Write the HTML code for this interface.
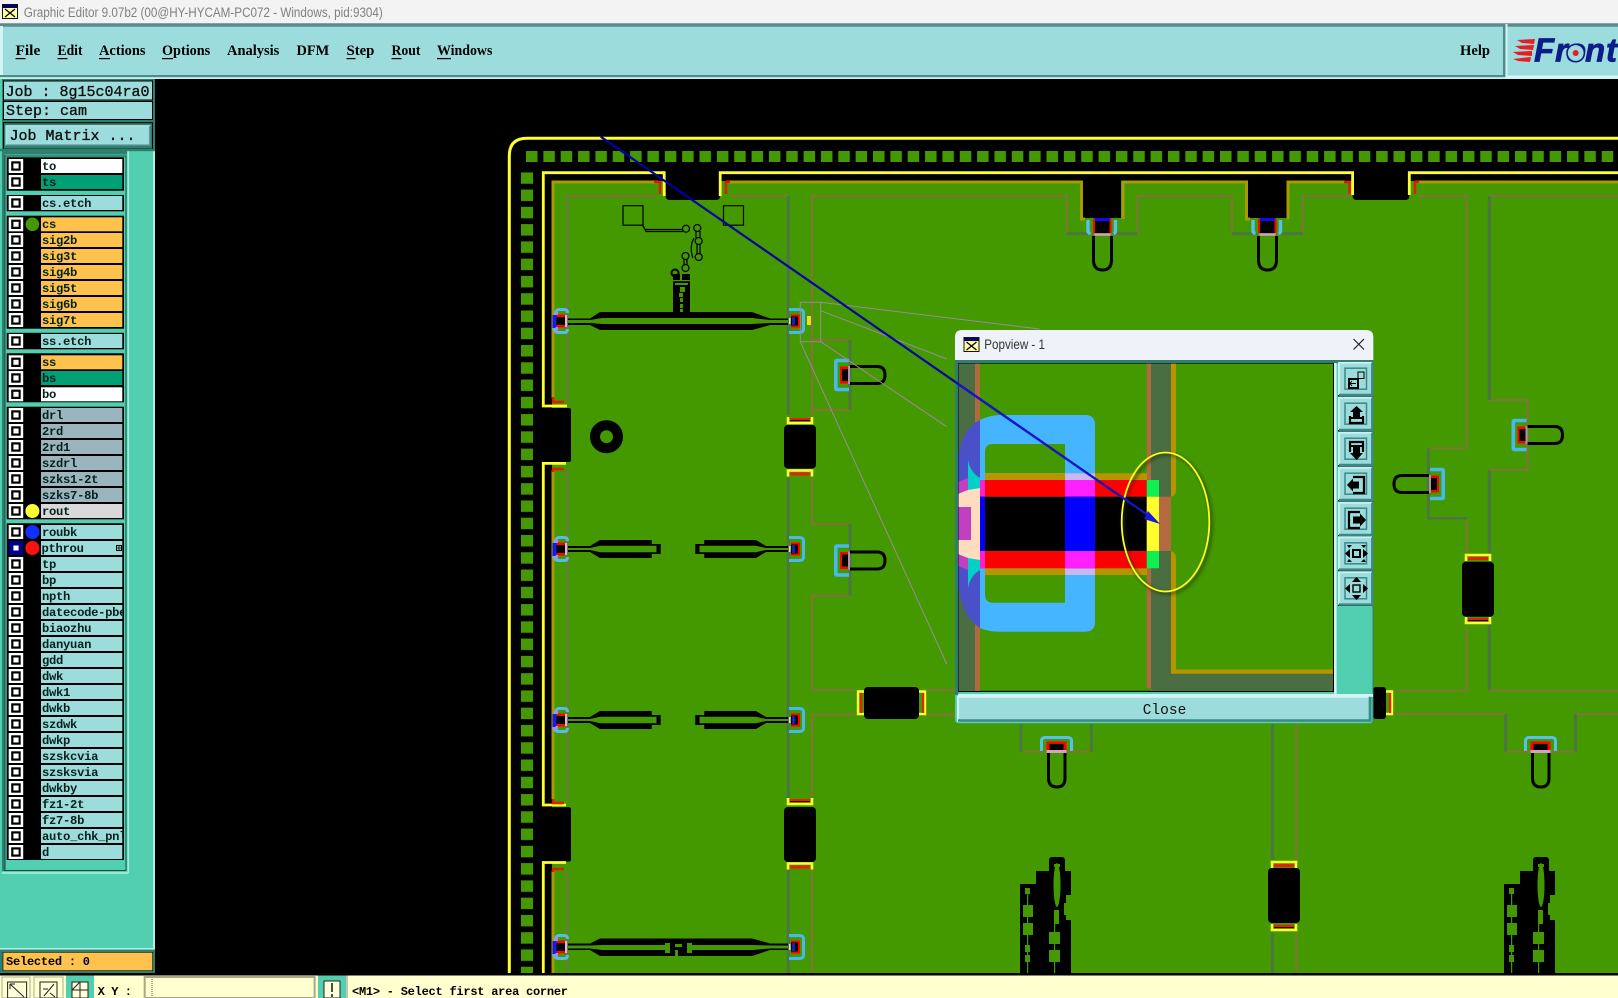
<!DOCTYPE html>
<html><head><meta charset="utf-8"><title>Graphic Editor</title>
<style>html,body{margin:0;padding:0;background:#000;overflow:hidden}svg{display:block}
.m{font:bold 15px "Liberation Serif",serif;fill:#000}
.j{font:15px "Liberation Mono",monospace;fill:#111;stroke:#111;stroke-width:.35}
.l{font:bold 12.2px "Liberation Mono",monospace;fill:#06201c;letter-spacing:-.3px}
.s{font:bold 12px "Liberation Mono",monospace;fill:#000}
.u{font:13.5px "Liberation Sans",sans-serif}
</style></head><body>
<svg xmlns="http://www.w3.org/2000/svg" width="1618" height="998" viewBox="0 0 1618 998">
<defs>
<pattern id="pt" x="526" y="151" width="17.35" height="40" patternUnits="userSpaceOnUse"><rect width="11.5" height="11" fill="#449800"/></pattern>
<pattern id="pl" x="521" y="172.3" width="20" height="17.27" patternUnits="userSpaceOnUse"><rect width="12" height="11.5" fill="#449800"/></pattern>
<clipPath id="lc"><rect x="41" y="150" width="81.3" height="720"/></clipPath>
<clipPath id="vc"><rect x="958.5" y="363.5" width="374.5" height="327.5"/></clipPath>
<g id="cb"><rect x="0" y="-7" width="14.5" height="14" fill="#fff"/><rect x="2.5" y="-4.7" width="9.5" height="9.4" fill="#000"/><rect x="4.7" y="-2.5" width="5.2" height="5" fill="#fff"/></g>
<g id="ic"><rect width="16" height="15" fill="#111"/><rect x="1" y="1" width="14" height="2.5" fill="#00008b"/><rect x="1" y="4" width="14" height="10" fill="#ffffa0"/><path d="M3 5l10 8M13 5L3 13" stroke="#000" stroke-width="1.3"/></g>
<g id="tl"><polygon points="568,-3 590,-3 600,-9 651.7,-9 651.7,-5 660.7,-5 660.7,5 651.7,5 651.7,9 600,9 590,3 568,3" fill="#000"/><polygon points="568,-1 590,-1 600,-3.2 656.5,-3.2 656.5,3.2 600,3.2 590,1 568,1" fill="#449800"/></g>
<g id="pl1"><path d="M1.5 9V5Q1.5 -11.5 6 -11.5H12Q15 -11.5 15 -8M1.5 -5V5Q1.5 11.5 6 11.5H12Q15 11.5 15 8" fill="none" stroke="#58b8f0" stroke-width="3"/><rect x="0" y="-6" width="4.5" height="13" fill="#1818f0"/><rect x="4" y="-5" width="9" height="10" fill="#000"/><rect x="4" y="-6.5" width="9" height="2.5" fill="#f00"/><rect x="4" y="4" width="9" height="2.5" fill="#f00"/><rect x="12.5" y="-6" width="2" height="12" fill="#e8b0e0"/><rect x="3" y="-10" width="2.5" height="4" fill="#c080e0"/><rect x="3" y="6" width="2.5" height="4" fill="#c080e0"/></g>
<g id="pr"><path d="M0 -11.5H10Q14.5 -11.5 14.5 -8V8Q14.5 11.5 10 11.5H0" fill="none" stroke="#48b8f0" stroke-width="3"/><rect x="2" y="-6.5" width="9" height="13" fill="#f00"/><rect x="2" y="-4.5" width="7" height="9" fill="#000"/><rect x="3" y="-4" width="3" height="8" fill="#1020c0"/><rect x="0" y="-3" width="1.5" height="6" fill="#f0d0f0"/></g>
<g id="ps"><path d="M15 -14.5H3Q1.8 -14.5 1.8 -13V13Q1.8 14.5 3 14.5H15" fill="none" stroke="#48b8f0" stroke-width="3.6"/><rect x="6" y="-8.5" width="8" height="17" fill="#f00"/><rect x="8" y="-6" width="6" height="12" fill="#000"/><rect x="14" y="-9" width="2" height="18" fill="#b090b0"/><path d="M16 -8.5H43Q51 -8.5 51 0Q51 8.5 43 8.5H16" fill="none" stroke="#000" stroke-width="3"/></g>
<g id="pt1"><rect x="-8" y="-2" width="16" height="4" fill="#0a0aff"/><rect x="-8" y="1" width="16" height="12" fill="#000"/><path d="M-14.5 0V11Q-14.5 13 -12 13.5M13 0V11Q13 13 11 13.5" fill="none" stroke="#58c0f0" stroke-width="3.4"/><rect x="-9.5" y="-1" width="2" height="14" fill="#f00"/><rect x="7" y="-1" width="2" height="14" fill="#f00"/><rect x="-8" y="13.5" width="16" height="2.2" fill="#d8a0c8"/><path d="M-9 16V40Q-9 50 0 50Q9 50 9 40V16" fill="none" stroke="#000" stroke-width="3"/></g>
<g id="pb"><path d="M-15 13V3Q-15 -0.5 -11 -0.5H11Q15 -0.5 15 3V13" fill="none" stroke="#58c0f0" stroke-width="3"/><rect x="-10" y="3.5" width="20" height="10" fill="#f00"/><rect x="-7" y="6" width="14" height="7" fill="#000"/><rect x="-10" y="12" width="20" height="3" fill="#d8a0c8"/><path d="M-8 15V40Q-8 49 0.5 49Q8.5 49 8.5 40V15" fill="none" stroke="#000" stroke-width="3"/></g>
<g id="yu"><path d="M-12 0V6H12V0" fill="none" stroke="#ffff30" stroke-width="2.6"/><rect x="-10" y="1" width="20" height="3" fill="#e82000"/><rect x="-10" y="3.2" width="20" height="1" fill="#000"/></g>
<g id="yd"><path d="M-12 7V1H12V7" fill="none" stroke="#ffff30" stroke-width="2.6"/><rect x="-10" y="3" width="20" height="3" fill="#e82000"/></g>
<g id="bk"><rect x="-16" y="0" width="32" height="55" rx="4" fill="#000"/></g>
<g id="cp"><rect x="0" y="27" width="51" height="90" fill="#000"/><rect x="16" y="14" width="35" height="102" fill="#000"/><rect x="29" y="0" width="16" height="30" rx="3" fill="#000"/>
<ellipse cx="37" cy="28" rx="3.5" ry="22" fill="#449800"/><rect x="34" y="7" width="6" height="3" fill="#449800"/><rect x="3" y="48" width="10" height="12" fill="#449800"/><rect x="3" y="66" width="10" height="12" fill="#449800"/><rect x="5" y="31" width="5" height="6" fill="#449800"/><rect x="5" y="88" width="5" height="7" fill="#449800"/><rect x="5" y="98" width="5" height="7" fill="#449800"/><rect x="7" y="37" width="1.2" height="79" fill="#449800"/><rect x="29" y="75" width="11" height="12" fill="#449800"/><rect x="29" y="93" width="11" height="12" fill="#449800"/><rect x="34" y="53" width="5" height="14" fill="#449800"/><rect x="34" y="66" width="1.2" height="50" fill="#449800"/><path d="M51 38H46V46H44V58H46V63H51Z" fill="#449800"/></g>
<g id="bt"><rect x="-1" y="-1.3" width="34.6" height="35" fill="#0a2a2a"/><rect width="33.3" height="32.3" fill="#9ddcdc"/><path d="M0 32.3V0H33.3" fill="none" stroke="#c6f2f0" stroke-width="2"/><path d="M33.3 0V32.3H0" fill="none" stroke="#3c8888" stroke-width="2.4"/><rect x="6" y="5.5" width="21.5" height="21" fill="none" stroke="#3c8888" stroke-width="1.5"/></g>
<filter id="sh" x="-20%" y="-20%" width="140%" height="140%"><feGaussianBlur stdDeviation="1.5"/></filter>
</defs>

<!-- title -->
<rect width="1618" height="24" fill="#f3f3f3"/>
<use href="#ic" x="2" y="4"/>
<text x="23.8" y="17" class="u" fill="#808080" textLength="359" lengthAdjust="spacingAndGlyphs">Graphic Editor 9.07b2 (00@HY-HYCAM-PC072 - Windows, pid:9304)</text>
<!-- menu -->
<rect y="23.3" width="1618" height="55.7" fill="#9ddcdc"/>
<rect y="23.3" width="1618" height="3.4" fill="#5a8a8c"/>
<rect x="0" y="26" width="3" height="51" fill="#d4f4f4"/>
<rect y="75" width="1503" height="2.2" fill="#4f8a8c"/>
<rect y="77.2" width="1508" height="1.8" fill="#c6ecec"/>
<rect x="1503" y="26" width="2.4" height="51" fill="#4f8a8c"/><rect x="1505.5" y="24" width="2" height="55" fill="#d4f4f4"/>
<rect x="1507.5" y="75.5" width="111" height="3.5" fill="#d4f4f4"/>
<g class="m">
<text class="m" x="15.5" y="55" textLength="24.8" lengthAdjust="spacingAndGlyphs">File</text>
<text class="m" x="57.5" y="55" textLength="25" lengthAdjust="spacingAndGlyphs">Edit</text>
<text class="m" x="99" y="55" textLength="46.5" lengthAdjust="spacingAndGlyphs">Actions</text>
<text class="m" x="162" y="55" textLength="48.2" lengthAdjust="spacingAndGlyphs">Options</text>
<text class="m" x="227" y="55" textLength="52.3" lengthAdjust="spacingAndGlyphs">Analysis</text>
<text class="m" x="296.5" y="55" textLength="32.7" lengthAdjust="spacingAndGlyphs">DFM</text>
<text class="m" x="346.5" y="55" textLength="27.9" lengthAdjust="spacingAndGlyphs">Step</text>
<text class="m" x="391.5" y="55" textLength="29" lengthAdjust="spacingAndGlyphs">Rout</text>
<text class="m" x="437" y="55" textLength="55.4" lengthAdjust="spacingAndGlyphs">Windows</text>
<text class="m" x="1460" y="55" textLength="30" lengthAdjust="spacingAndGlyphs">Help</text>
</g>
<g fill="#000"><rect x="15.5" y="58" width="10" height="1.2"/><rect x="57.5" y="58" width="10" height="1.2"/><rect x="99" y="58" width="11" height="1.2"/><rect x="162" y="58" width="11" height="1.2"/><rect x="346.5" y="58" width="9" height="1.2"/><rect x="391.5" y="58" width="10" height="1.2"/><rect x="437" y="58" width="14" height="1.2"/></g>
<!-- logo -->
<g fill="#e81c24"><polygon points="1517,40 1535,39 1534,44 1522,43"/><polygon points="1515,46 1534,45 1533,50 1520,49"/><polygon points="1513,52 1532,51 1532,56 1518,55"/><polygon points="1513,59 1531,57 1530,62 1518,61"/></g>
<text x="1534 1555 1566 1585 1606" y="61.5" font-family="Liberation Sans,sans-serif" font-weight="bold" font-style="italic" font-size="33" fill="#0c1c88" stroke="#0c1c88" stroke-width=".7">Front</text>
<circle cx="1575.7" cy="53" r="8.7" fill="#9ddcdc" stroke="#0c1c88" stroke-width="1.6"/>
<circle cx="1575.7" cy="53" r="3" fill="#e81c24"/>

<!-- canvas -->
<rect x="155" y="79" width="1463" height="896" fill="#000"/>
<path d="M509.3 973V156Q509.3 138.3 527 138.3H1618" fill="none" stroke="#ffff30" stroke-width="3"/>
<rect x="526" y="151" width="1092" height="11" fill="url(#pt)"/>
<rect x="521" y="172.3" width="12" height="801" fill="url(#pl)"/>
<!-- board -->
<rect x="552" y="181" width="1066" height="792" fill="#449800"/>
<g fill="#000">
<rect x="552" y="408" width="19" height="54" rx="2"/><rect x="552" y="807.3" width="19" height="54.2" rx="2"/>
<rect x="545" y="408" width="10" height="54"/><rect x="545" y="807.3" width="10" height="54.2"/>
<path d="M665.7 172H720V196Q720 200 716 200H670Q665.7 200 665.7 196Z"/>
<path d="M1352.6 172H1409.3V196Q1409.3 200 1405 200H1357Q1352.6 200 1352.6 196Z"/>
<rect x="1083" y="172" width="38" height="46"/><rect x="1248" y="172" width="38.6" height="46"/>
</g>
<g fill="none" stroke="#ffff30" stroke-width="2.8">
<path d="M567 406H543.3V172.7H664.2V196"/>
<path d="M720.2 196V172.7H1352.6V195"/>
<path d="M1409.3 195V172.7H1618"/>
<path d="M566 463.4H543.3V805H566"/>
<path d="M566 862.5H543.3V973"/>
</g>
<g fill="none" stroke="#a89a00" stroke-width="3">
<path d="M553 398V182H658"/><path d="M553 470V799"/><path d="M553 871V973"/>
<path d="M726 182H1081.5V219H1085M1123 219V182H1246.5V219H1250M1288 219V182H1345"/>
<path d="M1416 182H1618"/>
</g>
<g fill="none" stroke="#e81800" stroke-width="2.4">
<path d="M553 397V402H564"/><path d="M553 472V469H564"/><path d="M553 799V803H564"/><path d="M553 872V869H564"/>
<path d="M654 182H660V194"/><path d="M730 182H726V194"/><path d="M1344 182H1349.5V194"/><path d="M1419 182H1415V194"/>
</g>
<!-- brown traces -->
<g fill="none" stroke="#7d7638" stroke-width="2.2">
<path d="M567 196H657"/>
<path d="M730 196H788"/>
<path d="M812 417V196H1067V233.5H1137.5V196H1232V233.5H1302.8V196H1352"/>
<path d="M1418 196H1466.7V448.3"/>
<path d="M1489.3 196H1618"/>
<path d="M812 340H850"/>
<path d="M850 410H812"/>
<path d="M812 478V524H850"/>
<path d="M850 595.6H812V690H854"/>
<path d="M854 714.6H812V798"/>
<path d="M812 870V973"/>
<path d="M926 690H956M926 714.6H956"/>
<path d="M1395 690.7H1466.7V628"/>
<path d="M1395 714H1505V725"/>
<path d="M1489.3 400H1527.3V470H1489.3"/>
<path d="M1489.3 690.7H1618"/>
<path d="M1428.3 448.3H1466.7M1466.7 518.3V554"/>
<path d="M1296.4 724V860M1296.4 933V973"/>
<path d="M1021 751.7H1091.5"/>
<path d="M1505.6 751.7H1575.5"/>
<path d="M1575.5 725V714H1618"/>
</g>
<g fill="none" stroke="#4c7644" stroke-width="3">
<path d="M788.3 196V415"/><path d="M788.3 478V798"/><path d="M788.3 870V973"/>
<path d="M850 340V410"/><path d="M850 524V595.6"/>
<path d="M567 196V403M567 470V799M567 871V973" stroke-width="2.4" stroke="#6b7a40"/>
<path d="M1489.3 196V400M1489.3 470V554M1489.3 624V690"/>
<path d="M1428.3 448.3V518.3H1466.7" stroke-width="2.6"/>
<path d="M1272.5 724V860M1272.5 933V973"/>
<path d="M1021 724V751.7M1091.5 724V751.7M1505.6 714V751.7M1575.5 714V751.7"/>
<path d="M1067 233.5H1090M1113 233.5H1137.5M1232 233.5H1257M1279 233.5H1302.8"/>
<path d="M1527.3 400V470" stroke="#7d7638" stroke-width="2"/>
</g>
<!-- blocks -->
<rect x="784" y="425" width="32" height="43.6" rx="4" fill="#000"/><use href="#bk" x="800" y="807"/>
<use href="#yu" x="800" y="417"/><use href="#yd" x="800" y="469.5"/><use href="#yu" x="800" y="798"/><use href="#yd" x="800" y="862.5"/>
<use href="#bk" x="1478" y="561.7"/><use href="#yd" x="1478" y="554"/><use href="#yu" x="1478" y="617"/>
<use href="#bk" x="1284" y="868"/><use href="#yd" x="1284" y="861"/><use href="#yu" x="1284" y="924"/>
<rect x="864" y="687" width="55" height="32" rx="4" fill="#000"/>
<rect x="1373" y="687" width="13" height="32" rx="3" fill="#000"/>
<g fill="none" stroke="#ffff30" stroke-width="2.4"><path d="M864 691.5H858V714H864"/><path d="M919 691.5H925V714H919"/><path d="M1386 691.5H1392V714H1386"/></g>
<g fill="#e82000"><rect x="860" y="693" width="2.2" height="20"/><rect x="922" y="693" width="2.2" height="20"/><rect x="1389" y="693" width="2.2" height="20"/></g>
<!-- traces w/ bulge -->
<polygon points="568,318.5 590,318.5 600,312 752,312 770,318.5 788,318.5 788,325 770,325 752,330 600,330 590,325 568,325" fill="#000"/>
<polygon points="568,320 590,320 602,318 752,318 770,320 788,320 788,323 770,323 752,324 602,324 590,323 568,323" fill="#449800"/>
<rect x="673" y="274" width="17" height="38" fill="#000"/>
<g fill="#449800"><rect x="673" y="280" width="17" height="1.2"/><rect x="680" y="274" width="2" height="6"/><rect x="680" y="287" width="5" height="5"/><rect x="679" y="293" width="4" height="4"/><rect x="680" y="298" width="3" height="4"/><rect x="680" y="304" width="3" height="4"/><rect x="680" y="309" width="3" height="3"/><rect x="675" y="283" width="13" height="2"/></g>
<circle cx="675" cy="273" r="3.5" fill="none" stroke="#000" stroke-width="2"/>
<use href="#tl" transform="translate(0,549)"/><use href="#tl" transform="translate(1356,549) scale(-1,1)"/>
<use href="#tl" transform="translate(0,720)"/><use href="#tl" transform="translate(1356,720) scale(-1,1)"/>
<polygon points="568,943.5 590,943.5 600,938.5 752,938.5 770,943.5 788,943.5 788,950 770,950 752,956 600,956 590,950 568,950" fill="#000"/>
<polygon points="568,945.5 590,945.5 602,945 665,945 665,943 670,943 670,953 665,953 665,950 602,950 590,948.5 568,948.5" fill="#449800"/>
<polygon points="788,945.5 770,945.5 752,945 692,945 692,943 687,943 687,953 692,953 692,950 752,950 770,948.5 788,948.5" fill="#449800"/>
<rect x="675" y="944" width="7" height="3" fill="#449800"/><rect x="675" y="950" width="3" height="6" fill="#449800"/>
<!-- pads -->
<use href="#pl1" x="552.5" y="321"/><use href="#pl1" x="552.5" y="549"/><use href="#pl1" x="552.5" y="720"/><use href="#pl1" x="552.5" y="947"/>
<use href="#pr" x="789" y="321"/><use href="#pr" x="789" y="549"/><use href="#pr" x="789" y="720"/><use href="#pr" x="789" y="947"/>
<rect x="807" y="316" width="4" height="9" fill="#e8e020"/>
<use href="#ps" x="834" y="375"/><use href="#ps" x="834" y="560.5"/>
<use href="#ps" x="1511.5" y="435"/>
<use href="#ps" transform="translate(1445,484) scale(-1,1)"/>
<use href="#pt1" x="1102.5" y="220"/><use href="#pt1" x="1267.5" y="220"/>
<use href="#pb" x="1056.5" y="738"/><use href="#pb" x="1540.5" y="738"/>
<use href="#cp" x="1020" y="857"/><use href="#cp" x="1504" y="857"/>
<!-- small features -->
<circle cx="606.5" cy="436.7" r="11.5" fill="none" stroke="#000" stroke-width="10"/>
<g fill="none" stroke="#000" stroke-width="1.2">
<rect x="623" y="205.7" width="20" height="19.5"/><rect x="723.5" y="205.7" width="20" height="19.5"/>
<path d="M642.7 224.5L645 229.5H683M642.7 225.5L646 231.5H683"/>
<circle cx="686" cy="228.7" r="3.5"/>
<circle cx="697.3" cy="228" r="3.5"/><circle cx="698.7" cy="241" r="3.5"/><circle cx="698.7" cy="257" r="3.5"/>
<path d="M696 231V238M700 231V238M697 244V254M700 244V254M694 238Q689 247 693 258"/>
<circle cx="685.5" cy="256" r="3.5"/><circle cx="685.5" cy="268" r="3.5"/>
<path d="M684 259V265M687 259V265"/>
</g>
<!-- projection lines -->
<g fill="none" stroke="#9a8aa0" stroke-width="1">
<path d="M800.3 302.3H820.7V341.7H800.3Z"/>
<path d="M820.7 302.3L1039.5 329"/>
<path d="M820.7 310.7L947 359"/>
<path d="M820.7 341.7L946.7 426.7"/>
<path d="M800.3 341.7L946.7 664"/>
</g>

<!-- left panel -->
<rect x="0" y="79" width="155" height="896" fill="#52cfb0"/>
<rect x="2" y="79" width="153" height="72" fill="#2f7f6f"/>
<rect x="3.5" y="81" width="149" height="19" fill="#9ddcdc" stroke="#000" stroke-width="1"/>
<rect x="3.5" y="101.5" width="149" height="18" fill="#9ddcdc" stroke="#000" stroke-width="1"/>
<rect x="3.5" y="122.7" width="149" height="26.3" fill="#2f7f6f" stroke="#000" stroke-width="1"/>
<rect x="6" y="125.7" width="144" height="19.6" fill="#9ddcdc" stroke="#c8f0f0" stroke-width="1"/>
<path d="M150 126V145.3H6" fill="none" stroke="#4f8a8c" stroke-width="1.6"/>
<text class="j" x="5.5" y="96">Job : 8g15c04ra0</text>
<text class="j" x="6" y="115">Step: cam</text>
<text class="j" x="9.5" y="140">Job Matrix ...</text>
<rect x="2" y="151" width="3" height="720" fill="#2f7f6f"/>
<rect x="5" y="151" width="122" height="3.5" fill="#2f7f6f"/>
<rect x="127.5" y="151" width="1.4" height="722" fill="#b0f0e0"/>
<rect x="153" y="151" width="2" height="824" fill="#b0f0e0"/>
<rect x="0" y="148.8" width="155" height="2.4" fill="#2f7f6f"/>
<rect x="5" y="156" width="121" height="714.5" fill="none" stroke="#1a4a40" stroke-width="1"/>
<path d="M2 873H128" stroke="#b0f0e0" stroke-width="1.6"/>
<g fill="#000">
<rect x="6.7" y="157.3" width="117.3" height="33.4"/>
<rect x="6.7" y="195" width="117.3" height="16.3"/>
<rect x="6.7" y="215.7" width="117.3" height="113"/>
<rect x="6.7" y="332.8" width="117.3" height="16.5"/>
<rect x="6.7" y="353.3" width="117.3" height="49"/>
<rect x="6.7" y="406.7" width="117.3" height="112.6"/>
<rect x="6.7" y="523.3" width="117.3" height="336.7"/>
</g>
<g>
<rect x="41" y="159" width="81.3" height="14" fill="#fff"/><rect x="41" y="175" width="81.3" height="14" fill="#00a077"/>
<rect x="41" y="196" width="81.3" height="14" fill="#9ddcdc"/>
<rect x="41" y="217.3" width="81.3" height="14" fill="#ffc34d"/><rect x="41" y="233" width="81.3" height="14" fill="#ffc34d"/><rect x="41" y="249" width="81.3" height="14" fill="#ffc34d"/><rect x="41" y="265" width="81.3" height="14" fill="#ffc34d"/><rect x="41" y="281" width="81.3" height="14" fill="#ffc34d"/><rect x="41" y="297" width="81.3" height="14" fill="#ffc34d"/><rect x="41" y="313" width="81.3" height="14" fill="#ffc34d"/>
<rect x="41" y="334" width="81.3" height="14" fill="#9ddcdc"/>
<rect x="41" y="355.3" width="81.3" height="14" fill="#ffc34d"/><rect x="41" y="371" width="81.3" height="14" fill="#00a077"/><rect x="41" y="387.3" width="81.3" height="14" fill="#fff"/>
<rect x="41" y="408" width="81.3" height="14" fill="#9ab5bd"/><rect x="41" y="424" width="81.3" height="14" fill="#9ab5bd"/><rect x="41" y="440" width="81.3" height="14" fill="#9ab5bd"/><rect x="41" y="456" width="81.3" height="14" fill="#9ab5bd"/><rect x="41" y="472" width="81.3" height="14" fill="#9ab5bd"/><rect x="41" y="488" width="81.3" height="14" fill="#9ab5bd"/><rect x="41" y="504" width="81.3" height="14" fill="#d9d9d9"/>
</g>
<g fill="#9ddcdc">
<rect x="41" y="525" width="81.3" height="14"/><rect x="41" y="541" width="81.3" height="14"/><rect x="41" y="557" width="81.3" height="14"/><rect x="41" y="573" width="81.3" height="14"/><rect x="41" y="589" width="81.3" height="14"/><rect x="41" y="605" width="81.3" height="14"/><rect x="41" y="621" width="81.3" height="14"/><rect x="41" y="637" width="81.3" height="14"/><rect x="41" y="653" width="81.3" height="14"/><rect x="41" y="669" width="81.3" height="14"/><rect x="41" y="685" width="81.3" height="14"/><rect x="41" y="701" width="81.3" height="14"/><rect x="41" y="717" width="81.3" height="14"/><rect x="41" y="733" width="81.3" height="14"/><rect x="41" y="749" width="81.3" height="14"/><rect x="41" y="765" width="81.3" height="14"/><rect x="41" y="781" width="81.3" height="14"/><rect x="41" y="797" width="81.3" height="14"/><rect x="41" y="813" width="81.3" height="14"/><rect x="41" y="829" width="81.3" height="14"/><rect x="41" y="845" width="81.3" height="14"/>
</g>
<g>
<use href="#cb" x="8.7" y="166"/><use href="#cb" x="8.7" y="182"/><use href="#cb" x="8.7" y="203"/>
<use href="#cb" x="8.7" y="224.3"/><use href="#cb" x="8.7" y="240"/><use href="#cb" x="8.7" y="256"/><use href="#cb" x="8.7" y="272"/><use href="#cb" x="8.7" y="288"/><use href="#cb" x="8.7" y="304"/><use href="#cb" x="8.7" y="320"/>
<use href="#cb" x="8.7" y="341"/><use href="#cb" x="8.7" y="362.3"/><use href="#cb" x="8.7" y="378"/><use href="#cb" x="8.7" y="394.3"/>
<use href="#cb" x="8.7" y="415"/><use href="#cb" x="8.7" y="431"/><use href="#cb" x="8.7" y="447"/><use href="#cb" x="8.7" y="463"/><use href="#cb" x="8.7" y="479"/><use href="#cb" x="8.7" y="495"/><use href="#cb" x="8.7" y="511"/>
<use href="#cb" x="8.7" y="532"/>
<rect x="8.7" y="541" width="14.5" height="14" fill="#00008b"/><rect x="13.4" y="545.5" width="5.2" height="5" fill="#fff"/>
<use href="#cb" x="8.7" y="564"/><use href="#cb" x="8.7" y="580"/><use href="#cb" x="8.7" y="596"/><use href="#cb" x="8.7" y="612"/><use href="#cb" x="8.7" y="628"/><use href="#cb" x="8.7" y="644"/><use href="#cb" x="8.7" y="660"/><use href="#cb" x="8.7" y="676"/><use href="#cb" x="8.7" y="692"/><use href="#cb" x="8.7" y="708"/><use href="#cb" x="8.7" y="724"/><use href="#cb" x="8.7" y="740"/><use href="#cb" x="8.7" y="756"/><use href="#cb" x="8.7" y="772"/><use href="#cb" x="8.7" y="788"/><use href="#cb" x="8.7" y="804"/><use href="#cb" x="8.7" y="820"/><use href="#cb" x="8.7" y="836"/><use href="#cb" x="8.7" y="852"/>
</g>
<circle cx="32.4" cy="224.3" r="6.8" fill="#449800"/><circle cx="32.4" cy="511" r="7" fill="#ffff30"/><circle cx="32.4" cy="532" r="7" fill="#1030ff"/><circle cx="32.4" cy="548" r="7" fill="#ff1010"/>
<rect x="116.5" y="545.5" width="5" height="5" fill="none" stroke="#000" stroke-width="1"/><path d="M119 546V550M117 548H121" stroke="#000" stroke-width=".8"/>
<g clip-path="url(#lc)">
<text class="l" x="42" y="170">to</text><text class="l" x="42" y="186">ts</text><text class="l" x="42" y="207">cs.etch</text>
<text class="l" x="42" y="228">cs</text><text class="l" x="42" y="244">sig2b</text><text class="l" x="42" y="260">sig3t</text><text class="l" x="42" y="276">sig4b</text><text class="l" x="42" y="292">sig5t</text><text class="l" x="42" y="308">sig6b</text><text class="l" x="42" y="324">sig7t</text>
<text class="l" x="42" y="345">ss.etch</text><text class="l" x="42" y="366">ss</text><text class="l" x="42" y="382">bs</text><text class="l" x="42" y="398">bo</text>
<text class="l" x="42" y="419">drl</text><text class="l" x="42" y="435">2rd</text><text class="l" x="42" y="451">2rd1</text><text class="l" x="42" y="467">szdrl</text><text class="l" x="42" y="483">szks1-2t</text><text class="l" x="42" y="499">szks7-8b</text><text class="l" x="42" y="515">rout</text>
<text class="l" x="42" y="536">roubk</text><text class="l" x="41.5" y="552">pthrou</text><text class="l" x="42" y="568">tp</text><text class="l" x="42" y="584">bp</text><text class="l" x="42" y="600">npth</text><text class="l" x="42" y="616">datecode-pbe</text><text class="l" x="42" y="632">biaozhu</text><text class="l" x="42" y="648">danyuan</text><text class="l" x="42" y="664">gdd</text><text class="l" x="42" y="680">dwk</text><text class="l" x="42" y="696">dwk1</text><text class="l" x="42" y="712">dwkb</text><text class="l" x="42" y="728">szdwk</text><text class="l" x="42" y="744">dwkp</text><text class="l" x="42" y="760">szskcvia</text><text class="l" x="42" y="776">szsksvia</text><text class="l" x="42" y="792">dwkby</text><text class="l" x="42" y="808">fz1-2t</text><text class="l" x="42" y="824">fz7-8b</text><text class="l" x="42" y="840">auto_chk_pnl</text><text class="l" x="42" y="856">d</text>
</g>
<rect x="0" y="948" width="155" height="27" fill="#2f7f6f"/>
<rect x="0" y="948" width="155" height="1.6" fill="#b0f0e0"/>
<rect x="3" y="952.3" width="149.7" height="18.4" fill="#ffc34d" stroke="#000" stroke-width=".6"/>
<text class="s" x="6" y="965" textLength="84">Selected : 0</text>

<!-- bottom bar -->
<rect y="973" width="1618" height="2.8" fill="#000"/>
<rect y="975.5" width="1618" height="22.5" fill="#ffffd0"/>
<rect x="2" y="977" width="28" height="21" fill="#ffffd0" stroke="#c8c8a8" stroke-width="1.5"/>
<rect x="7.6" y="982" width="19" height="16" fill="#ffffd8" stroke="#222" stroke-width="1"/><path d="M10 984L24 997M10 984V989M10 984H15" fill="none" stroke="#222"/>
<rect x="34" y="977" width="29" height="21" fill="#ffffd0" stroke="#c8c8a8" stroke-width="1.5"/>
<rect x="40" y="982" width="17" height="16" fill="#ffffd8" stroke="#222" stroke-width="1"/><path d="M44 996L54 984M43 989H48M50 993L55 997" fill="none" stroke="#222"/>
<rect x="66" y="975.5" width="28" height="22.5" fill="#52cfb0"/><rect x="72" y="982" width="16" height="16" fill="#ffffd8" stroke="#222"/><path d="M80 982V998M72 990H88M72 990L80 982" fill="none" stroke="#222"/>
<text class="s" x="97.6" y="995" font-size="13" textLength="34.4">X Y :</text>
<rect x="144.7" y="977" width="169.9" height="21" fill="#ffffd0" stroke="#a8a888" stroke-width="2"/>
<path d="M152 979V997" stroke="#555" stroke-width="1" stroke-dasharray="1 1"/>
<rect x="318" y="975.5" width="28" height="22.5" fill="#52cfb0"/><rect x="324" y="981" width="16" height="17" fill="#ffffd8" stroke="#222"/><path d="M332 983V992M332 994V997" stroke="#111" stroke-width="1.5"/>
<rect x="346" y="975.5" width="2" height="22.5" fill="#c8c8a8"/>
<text class="s" x="352" y="995" textLength="216">&lt;M1&gt; - Select first area corner</text>

<!-- popup -->
<path d="M955 341Q955 330 965 330H1363Q1373.3 330 1373.3 341V719Q1373.3 723.3 1369 723.3H959Q955 723.3 955 719Z" fill="#52cfb0"/>
<path d="M955 361V337Q955 330 962 330H1366Q1373.3 330 1373.3 337V361Z" fill="#eff2f8"/>
<rect x="955" y="360" width="418.3" height="3.3" fill="#2f7f6f"/>
<rect x="955" y="363" width="3.3" height="332" fill="#2f7f6f"/>
<use href="#ic" x="963.5" y="337"/>
<text class="u" x="984.3" y="349" font-size="13" fill="#333" textLength="60.7" lengthAdjust="spacingAndGlyphs">Popview - 1</text>
<path d="M1353.5 339L1364 349.5M1364 339L1353.5 349.5" stroke="#222" stroke-width="1.2" fill="none"/>
<rect x="958" y="363" width="376" height="329" fill="#000"/>
<rect x="958.6" y="363.6" width="374.4" height="327.2" fill="#449800"/>
<g clip-path="url(#vc)">
<!-- left band -->
<rect x="958" y="363" width="17" height="328" fill="#4a6e42"/>
<rect x="975" y="363" width="5" height="328" fill="#b06a40"/>
<!-- right band -->
<rect x="1146.7" y="363" width="4.5" height="325" fill="#b06a40"/>
<rect x="1151" y="363" width="20" height="328" fill="#4a6e42"/>
<path d="M1171 363H1176V490Q1176 495 1171 497Z" fill="#b89500"/>
<path d="M1171 551Q1176 553 1176 558V669.5H1171Z" fill="#b89500"/>
<rect x="1171" y="669.5" width="163" height="4.3" fill="#b89500"/>
<rect x="1151" y="673.8" width="183" height="18" fill="#4a6e42"/>
<path d="M1146.7 680Q1148 690 1156 692H1151Q1151 685 1151 680Z" fill="#b06a40"/>
<!-- cyan U -->
<path d="M980 420Q990 415 1000 415H1085Q1095 415 1095 425V622Q1095 631.7 1085 631.7H1000Q988 631.7 980 628Z" fill="#45b5ff"/>
<path d="M1065 444V602.7H993Q985 602.7 985 594V575H1065V473H985V452Q985 444 993 444Z" fill="#449800"/>
<path d="M980 420Q958 430 958 470V580Q960 615 980 628Z" fill="#4a50c8"/>
<path d="M968 460Q970 472 980 478V488L968 495ZM968 588Q970 576 980 570V560L968 553Z" fill="#00d0c8"/>
<path d="M958 482L968 478V490L958 494ZM958 566L968 570V558L958 554Z" fill="#c040c0"/>
<path d="M958 494L968 490L980 488V560L968 558L958 554Z" fill="#ffdcc0"/>
<!-- strips -->
<rect x="985" y="473.3" width="162" height="6.7" fill="#b89500"/><rect x="985" y="568.3" width="162" height="6.7" fill="#b89500"/>
<rect x="1065" y="473.3" width="30" height="6.7" fill="#c8b8f0"/><rect x="1065" y="568.3" width="30" height="6.7" fill="#c8b8f0"/>
<rect x="980" y="480" width="167" height="16.7" fill="#ff0000"/><rect x="980" y="551" width="167" height="17.3" fill="#ff0000"/>
<rect x="1065" y="480" width="30" height="16.7" fill="#ff20ff"/><rect x="1065" y="551" width="30" height="17.3" fill="#ff20ff"/>
<rect x="980" y="480" width="5" height="16.7" fill="#ff20d0"/><rect x="980" y="551" width="5" height="17.3" fill="#ff20d0"/>
<rect x="980" y="496.7" width="167" height="54.3" fill="#000"/>
<rect x="1065" y="496.7" width="30" height="54.3" fill="#0000ff"/>
<rect x="980" y="496.7" width="5" height="54.3" fill="#0000ff"/>
<rect x="958" y="507" width="13" height="33" fill="#c040c0"/>
<!-- end -->
<rect x="1146.7" y="480" width="12.3" height="16.7" fill="#10f050"/><rect x="1146.7" y="551" width="12.3" height="17.3" fill="#10f050"/>
<rect x="1146.7" y="496.7" width="12.3" height="54.3" fill="#ffff30"/>
<rect x="1159" y="496.7" width="12" height="54.3" fill="#b46a40"/>
<ellipse cx="1167.5" cy="524" rx="43.8" ry="69.5" fill="none" stroke="#203000" stroke-width="3" opacity=".6" filter="url(#sh)"/>
<ellipse cx="1165.5" cy="522" rx="43.8" ry="69.5" fill="none" stroke="#ffff20" stroke-width="1.8"/>
</g>
<!-- blue arrow -->
<path d="M600.7 136.7L1152 518" stroke="#0000a8" stroke-width="2.2" fill="none"/>
<path d="M958 384L1152 518" stroke="#1414c8" stroke-width="2.2" fill="none"/>
<polygon points="1160,524 1148,511 1144,519" fill="#1818d8"/>
<!-- popup buttons -->
<rect x="1334" y="363" width="2.6" height="332" fill="#d4f4f4"/>
<rect x="1372.5" y="363" width="1" height="360" fill="#2f7f6f"/>
<use href="#bt" x="1339" y="362.7"/><use href="#bt" x="1339" y="397.7"/><use href="#bt" x="1339" y="432.7"/><use href="#bt" x="1339" y="467.7"/><use href="#bt" x="1339" y="502.7"/><use href="#bt" x="1339" y="537.3"/><use href="#bt" x="1339" y="572.3"/>
<g fill="#000">
<rect x="1349" y="379" width="9" height="9" fill="none" stroke="#000" stroke-width="2"/><rect x="1358" y="372" width="6" height="6.5" fill="none" stroke="#000" stroke-width="1"/><path d="M1350 383.5H1356M1352 381L1350 383.5L1352 386" stroke="#000" fill="none"/>
<path d="M1350 416V423H1363V416" fill="none" stroke="#000" stroke-width="2.2"/><polygon points="1356.5,406 1363,412 1360,412 1360,417 1353,417 1353,412 1350,412"/><rect x="1351" y="417" width="11" height="2"/>
<path d="M1350 452V442H1363V452" fill="none" stroke="#000" stroke-width="2.2"/><polygon points="1356.5,460 1363,453 1360,453 1360,447 1353,447 1353,453 1350,453"/><rect x="1351" y="445" width="11" height="2"/>
<path d="M1353 477H1364V493H1353" fill="none" stroke="#000" stroke-width="2.2"/><polygon points="1347,485 1353,478.5 1353,481.5 1359,481.5 1359,488.5 1353,488.5 1353,491.5"/>
<path d="M1360 512H1349V528H1360" fill="none" stroke="#000" stroke-width="2.2"/><polygon points="1366,520 1360,513.5 1360,516.5 1353,516.5 1353,523.5 1360,523.5 1360,526.5"/>
<rect x="1353" y="550" width="7" height="7" fill="none" stroke="#000" stroke-width="2"/><polygon points="1347,545 1352,545 1349,548"/><polygon points="1366,545 1361,545 1364,548"/><polygon points="1347,562 1352,562 1349,559"/><polygon points="1366,562 1361,562 1364,559"/><polygon points="1345,553.5 1350,549 1350,558"/><polygon points="1368,553.5 1363,549 1363,558"/>
<rect x="1353" y="585" width="7" height="7" fill="none" stroke="#000" stroke-width="1.4"/><polygon points="1356.5,577 1352,582 1361,582"/><polygon points="1356.5,600 1352,595 1361,595"/><polygon points="1345,588.5 1350,584 1350,593"/><polygon points="1368,588.5 1363,584 1363,593"/>
</g>
<!-- close -->
<rect x="958" y="694" width="415" height="3" fill="#d4f4f4"/>
<rect x="958" y="696.7" width="412" height="25" fill="#9ddcdc"/>
<path d="M958 721.7V696.7H1370" fill="none" stroke="#d4f4f4" stroke-width="2"/>
<path d="M1370 696.7V720.5H958" fill="none" stroke="#3c8888" stroke-width="2.6"/>
<text x="1142.7" y="714" font-family="Liberation Mono,monospace" font-size="14.5" fill="#111" textLength="43.6">Close</text>
</svg>
</body></html>
